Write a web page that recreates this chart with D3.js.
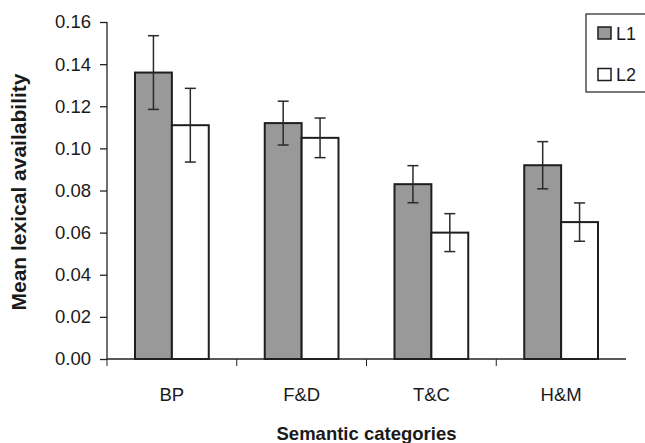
<!DOCTYPE html>
<html>
<head>
<meta charset="utf-8">
<script src="https://cdn.jsdelivr.net/npm/d3@7"></script>
<style>
    body { margin: 0; background: #fff; }
    svg { display: block; font-family: "Liberation Sans", Arial, Helvetica, sans-serif; }
</style>
</head>
<body>
<svg></svg>
<script>
// chart values
var categories = ['BP', 'F&D', 'T&C', 'H&M'];
var series = ['L1', 'L2'];
var l1Means = [0.136, 0.112, 0.083, 0.092];
var l2Means = [0.111, 0.105, 0.060, 0.065];
var l1Errors = [0.0175, 0.0104, 0.0088, 0.0112];
var l2Errors = [0.0175, 0.0094, 0.0090, 0.0091];
var yTicks = [0, 0.02, 0.04, 0.06, 0.08, 0.10, 0.12, 0.14, 0.16];

const SVGsize = {w: 645, h: 443};
const margins = {t: 22, r: 19, b: 84, l: 107};
const size = {
    w: SVGsize.w - margins.l - margins.r,
    h: SVGsize.h - margins.t - margins.b
};

var svg = d3.select('svg')
    .attr('width', SVGsize.w)
    .attr('height', SVGsize.h);

var g = svg.append('g')
    .attr('transform', `translate(${margins.l}, ${margins.t})`);

// rows for drawing
var data = categories.map(function(c, i) {
    return {
        cat: c,
        values: [
            {key: 'L1', mean: l1Means[i], err: l1Errors[i]},
            {key: 'L2', mean: l2Means[i], err: l2Errors[i]}
        ]
    };
});

var fills = {L1: '#999999', L2: '#ffffff'};

// Scales
var scaleX = d3.scaleBand()
    .domain(categories)
    .range([0, size.w]);

var scaleSeries = d3.scaleBand()
    .domain(series)
    .range([28, scaleX.bandwidth() - 28]);

var scaleY = d3.scaleLinear()
    .domain([0, 0.16])
    .range([size.h, 0]);

// Bars
var groups = g.selectAll('.group')
    .data(data)
    .enter().append('g')
    .attr('class', 'group')
    .attr('transform', function(d) { return `translate(${scaleX(d.cat)},0)`; });

groups.selectAll('rect')
    .data(function(d) { return d.values; })
    .enter().append('rect')
    .attr('x', function(d) { return scaleSeries(d.key); })
    .attr('y', function(d) { return scaleY(d.mean); })
    .attr('width', scaleSeries.bandwidth())
    .attr('height', function(d) { return size.h - scaleY(d.mean); })
    .attr('fill', function(d) { return fills[d.key]; })
    .attr('stroke', '#1e1e1e')
    .attr('stroke-width', 2);

// Error bars
var errG = groups.selectAll('.err')
    .data(function(d) { return d.values; })
    .enter().append('g')
    .attr('class', 'err')
    .attr('stroke', '#2a2a2a')
    .attr('stroke-width', 1.5);

errG.append('line')
    .attr('x1', function(d) { return scaleSeries(d.key) + scaleSeries.bandwidth() / 2; })
    .attr('x2', function(d) { return scaleSeries(d.key) + scaleSeries.bandwidth() / 2; })
    .attr('y1', function(d) { return scaleY(d.mean + d.err); })
    .attr('y2', function(d) { return scaleY(d.mean - d.err); });

errG.selectAll('.cap')
    .data(function(d) { return [d.mean + d.err, d.mean - d.err].map(function(v) { return {key: d.key, v: v}; }); })
    .enter().append('line')
    .attr('class', 'cap')
    .attr('x1', function(d) { return scaleSeries(d.key) + scaleSeries.bandwidth() / 2 - 5.5; })
    .attr('x2', function(d) { return scaleSeries(d.key) + scaleSeries.bandwidth() / 2 + 5.5; })
    .attr('y1', function(d) { return scaleY(d.v); })
    .attr('y2', function(d) { return scaleY(d.v); });

// Axes
var yAxis = d3.axisLeft(scaleY)
    .tickValues(yTicks)
    .tickFormat(d3.format('.2f'))
    .tickSize(7)
    .tickPadding(9);

var yAxisG = g.append('g').call(yAxis);
yAxisG.select('.domain').attr('d', `M0,${size.h}V0`);

var xAxis = d3.axisBottom(scaleX)
    .tickSize(0)
    .tickPadding(29);

var xAxisG = g.append('g')
    .attr('transform', `translate(0,${size.h})`)
    .call(xAxis);
xAxisG.select('.domain').attr('d', `M0,0H${size.w}`);

// boundary ticks between categories
xAxisG.selectAll('.sep')
    .data(categories)
    .enter().append('line')
    .attr('class', 'sep')
    .attr('x1', function(d) { return scaleX(d); })
    .attr('x2', function(d) { return scaleX(d); })
    .attr('y1', 0)
    .attr('y2', 7)
    .attr('stroke', '#222');

svg.selectAll('.domain').attr('stroke', '#222').attr('stroke-width', 1.3);
svg.selectAll('.tick line').attr('stroke', '#222').attr('stroke-width', 1.3);
svg.selectAll('.tick text')
    .attr('fill', '#1a1a1a')
    .attr('font-size', '18.5px')
    .attr('font-family', '"Liberation Sans", Arial, sans-serif');

// Axis labels
svg.append('text')
    .attr('x', margins.l + size.w / 2)
    .attr('y', 440)
    .attr('text-anchor', 'middle')
    .attr('font-size', '18.5px')
    .attr('font-weight', 'bold')
    .attr('fill', '#1a1a1a')
    .text('Semantic categories');

svg.append('text')
    .attr('transform', 'translate(26,192) rotate(-90)')
    .attr('text-anchor', 'middle')
    .attr('font-size', '21px')
    .attr('font-weight', 'bold')
    .attr('fill', '#1a1a1a')
    .text('Mean lexical availability');

// Legend
var legend = svg.append('g')
    .attr('transform', 'translate(586,14)');

legend.append('rect')
    .attr('x', 0)
    .attr('y', 0)
    .attr('width', 80)
    .attr('height', 78)
    .attr('fill', '#fff')
    .attr('stroke', '#222')
    .attr('stroke-width', 1.2);

var legItems = legend.selectAll('.item')
    .data(series)
    .enter().append('g')
    .attr('class', 'item')
    .attr('transform', function(d, i) { return `translate(12,${13 + i * 41.5})`; });

legItems.append('rect')
    .attr('width', 13)
    .attr('height', 12)
    .attr('fill', function(d) { return fills[d]; })
    .attr('stroke', '#1e1e1e')
    .attr('stroke-width', 1.5);

legItems.append('text')
    .attr('x', 18)
    .attr('y', 12.5)
    .attr('font-size', '18px')
    .attr('fill', '#1a1a1a')
    .text(function(d) { return d; });
</script>
</body>
</html>
